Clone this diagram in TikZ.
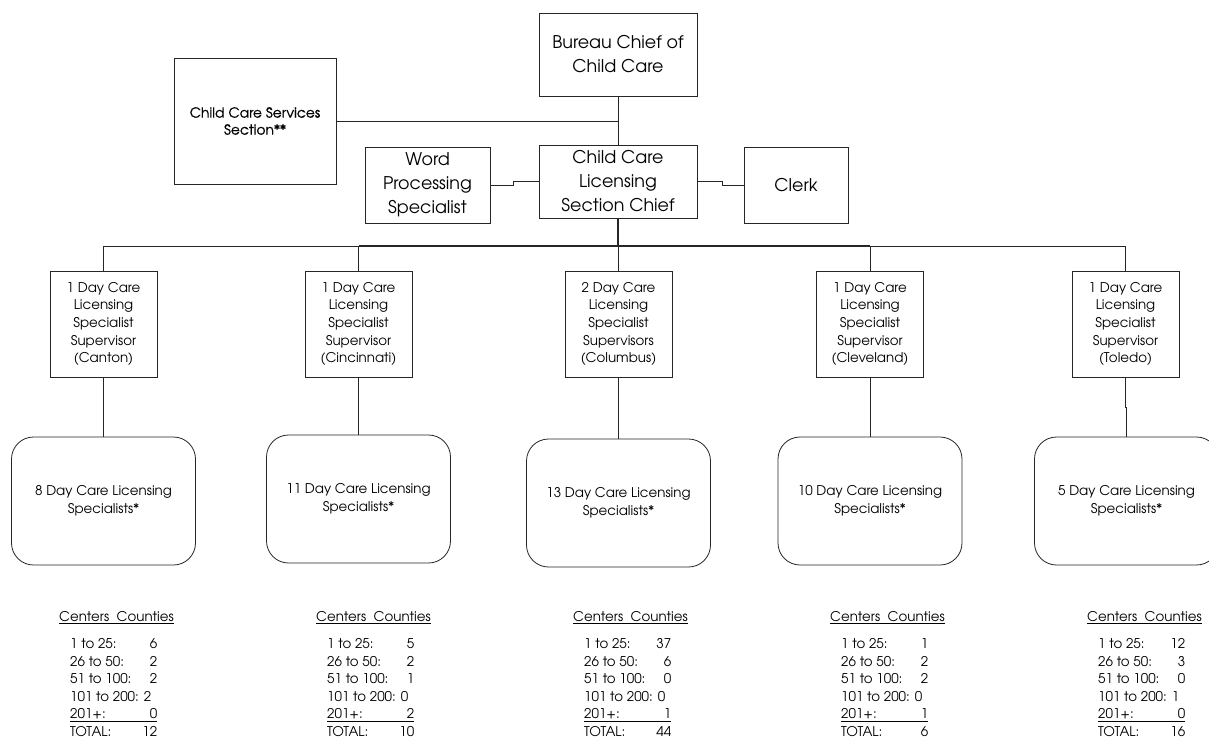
\documentclass[tikz,border=0pt]{standalone}
\usepackage{fontspec}
\setmainfont{texgyreadventor}[Extension=.otf, UprightFont=*-regular, BoldFont=*-bold]
\newfontfamily\heavierfont{texgyreadventor}[Extension=.otf, UprightFont=*-regular, FakeBold=0.8]

% one "Centers / Counties" summary block under a regional team
\newcommand\countytable[8]{%
  \node[smalltext, anchor=base west, inner sep=0pt] (#1h) at (#2, 621.5)
    {\underline{Centers\ \ Counties}};
  \node[smalltext, anchor=base west, inner sep=0pt] (#1t) at (#2+11, 648.5)
    {\setlength\arrayrulewidth{0.9pt}%
     \begin{tabular*}{87pt}[t]{@{}l@{\extracolsep{\fill}}r@{}}
       1 to 25: & #3\\
       26 to 50: & #4\\
       51 to 100: & #5\\
       \multicolumn{2}{@{}l@{}}{101 to 200: #6}\\
       201+: & #7\\[-3pt]\cline{1-2}\noalign{\vskip 3pt}
       TOTAL: & #8
     \end{tabular*}};
}

\begin{document}
\begin{tikzpicture}[x=1pt,y=-1pt,
  line/.style={draw=black!85, line width=0.8pt},
  heavy/.style={draw=black!85, line width=1.6pt},
  box/.style={draw=black!85, line width=0.8pt, rectangle, inner sep=0pt, align=center, text=black},
  bigtext/.style={font=\fontsize{17.5}{24}\selectfont},
  smalltext/.style={font=\fontsize{13.4}{17.6}\selectfont},
  supbox/.style={box, smalltext, minimum width=107pt, minimum height=106pt},
  teambox/.style={box, smalltext, rounded corners=22pt, minimum width=184pt, minimum height=128pt},
]
\useasboundingbox (0,0) rectangle (1209,739);
\fill[white] (0,0) rectangle (1209,739);
\clip (0,0) rectangle (1209,739);

% top of the chart
\node[box, bigtext, minimum width=158pt, minimum height=83pt] (bureau) at (618,54.5) {Bureau Chief of\\Child Care};
\node[box, font=\fontsize{13.9}{17}\heavierfont, minimum width=162pt, minimum height=126pt] (ccss) at (255,121) {Child Care Services\\Section**};
\node[box, bigtext, minimum width=158pt, minimum height=73pt] (chief) at (618,181.5) {Child Care\\Licensing\\Section Chief};
\node[box, bigtext, minimum width=125pt, minimum height=76pt] (wp) at (427.5,185) {Word\\Processing\\Specialist};
\node[box, bigtext, minimum width=104pt, minimum height=76pt] (clerk) at (796,185) {Clerk};

\draw[line] (bureau.south) -- (chief.north);
\draw[line] (ccss.east) -- (ccss.east -| bureau.south);
\draw[line] (wp.east) -- ++(23,0) |- (chief.west);
\draw[line] (chief.east) -- ++(25,0) |- (clerk.west);

% regional supervisors
\node[supbox] (sA) at (103.5,324) {1 Day Care\\Licensing\\Specialist\\Supervisor\\(Canton)};
\node[supbox] (sB) at (358.5,324) {1 Day Care\\Licensing\\Specialist\\Supervisor\\(Cincinnati)};
\node[supbox] (sC) at (618.5,324) {2 Day Care\\Licensing\\Specialist\\Supervisors\\(Columbus)};
\node[supbox] (sD) at (870,324) {1 Day Care\\Licensing\\Specialist\\Supervisor\\(Cleveland)};
\node[supbox] (sE) at (1125.5,324) {1 Day Care\\Licensing\\Specialist\\Supervisor\\(Toledo)};

\coordinate (hub) at (618,246);
\draw[heavy] (chief.south) -- (hub);
\foreach \s in {sA,sB,sC,sD,sE} \draw[line] (\s.north) |- (hub);
\draw[heavy] (sB.north |- hub) -- (sD.north |- hub);

% licensing teams
\node[teambox] (tA) at (103.5,501) {8 Day Care Licensing\\Specialists*};
\node[teambox] (tB) at (358.5,499) {11 Day Care Licensing\\Specialists*};
\node[teambox] (tC) at (618.5,503) {13 Day Care Licensing\\Specialists*};
\node[teambox] (tD) at (870,501) {10 Day Care Licensing\\Specialists*};
\node[teambox] (tE) at (1126.5,501) {5 Day Care Licensing\\Specialists*};

\draw[line] (sA.south) -- (tA.north);
\draw[line] (sB.south) -- (tB.north);
\draw[line] (sC.south) -- (tC.north);
\draw[line] (sD.south) -- (tD.north);
\draw[line] (sE.south) -- ++(0,30) -| (tE.north);

% county counts by number of centers
\countytable{cA}{59}{6}{2}{2}{2}{0}{12}
\countytable{cB}{316}{5}{2}{1}{0}{2}{10}
\countytable{cC}{573}{37}{6}{0}{0}{1}{44}
\countytable{cD}{830}{1}{2}{2}{0}{1}{6}
\countytable{cE}{1087}{12}{3}{0}{1}{0}{16}
\end{tikzpicture}
\end{document}
